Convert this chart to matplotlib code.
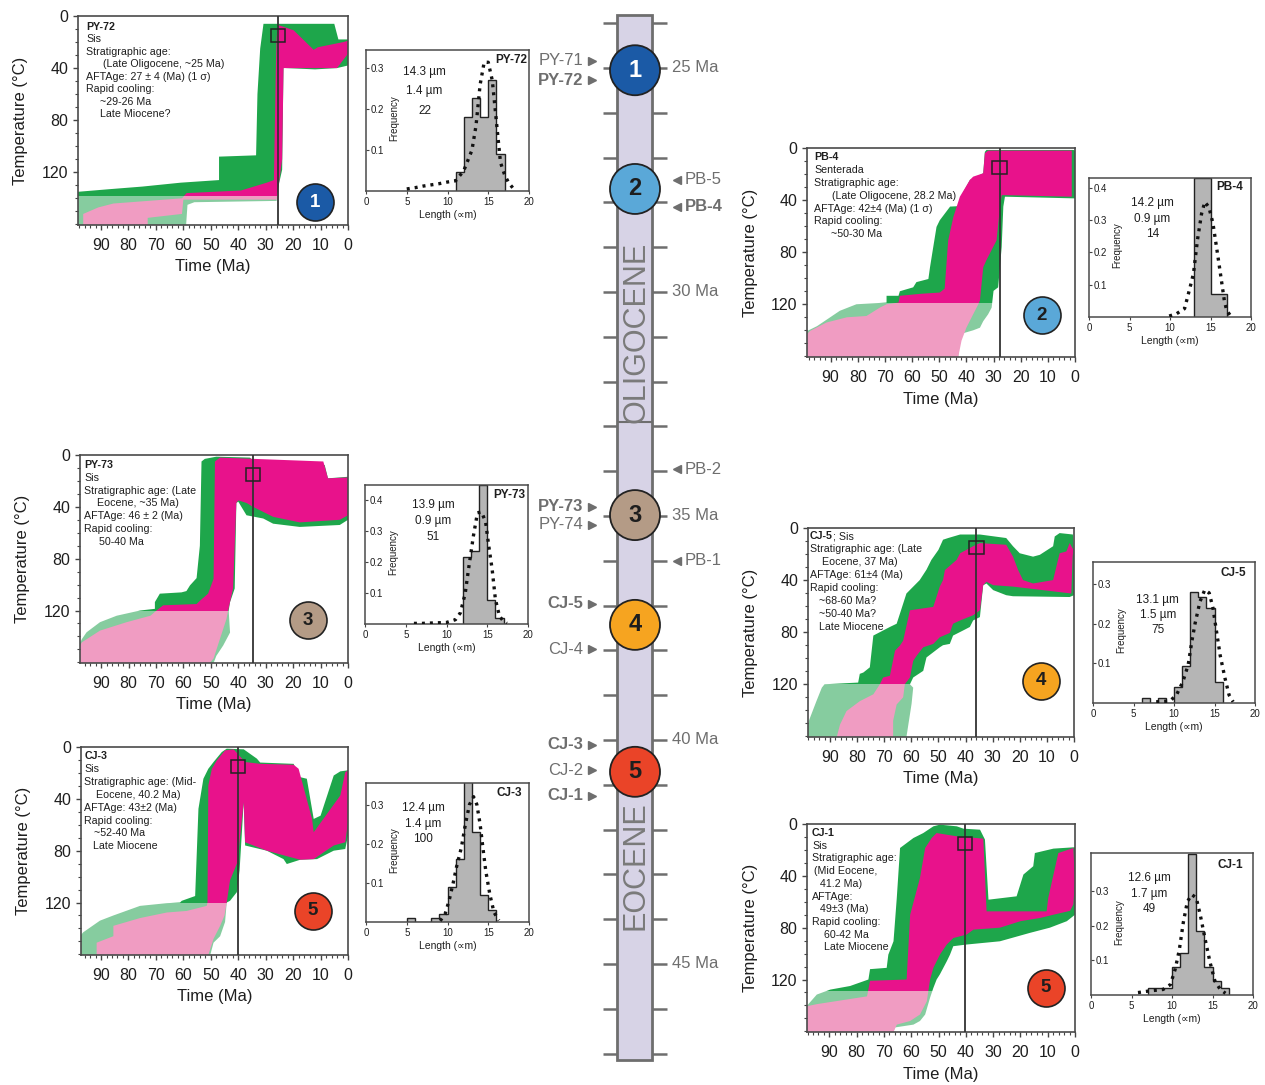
import numpy as np
import matplotlib
matplotlib.use("Agg")
import matplotlib.pyplot as plt
from matplotlib.patches import Polygon, Rectangle
from matplotlib.ticker import MultipleLocator

plt.rcParams['font.family'] = ['Liberation Sans', 'DejaVu Sans']

# ======================= DATA =======================
# --- central time column (Ma) ---
column_ticks_ma = list(range(24, 48))
column_age_labels_ma = [25, 30, 35, 40, 45]
epoch_names = ['OLIGOCENE', 'EOCENE']
epoch_label_ma = [30.9, 42.8]
epoch_boundary_ma = 32.9
column_top_ma, column_bottom_ma = 23.82, 47.14
group_numbers = ['1', '2', '3', '4', '5']
group_ages_ma = [25.05, 27.7, 34.98, 37.43, 40.71]
group_colors = ['#1b5aa6', '#5aa8d8', '#b49b86', '#f6a420', '#ea4428']
group_text_colors = ['white', '#1e1e1e', '#1e1e1e', '#1e1e1e', '#1e1e1e']

left_samples = ['PY-71', 'PY-72', 'PY-73', 'PY-74', 'CJ-5', 'CJ-4', 'CJ-3', 'CJ-2', 'CJ-1']
left_sample_ma = [24.84, 25.27, 34.79, 35.2, 36.96, 37.97, 40.11, 40.68, 41.25]
left_sample_bold = [False, True, True, False, True, False, True, False, True]
right_samples = ['PB-5', 'PB-4', 'PB-2', 'PB-1']
right_sample_ma = [27.5, 28.1, 33.96, 36.0]
right_sample_bold = [False, True, False, False]

# --- PY-72 thermal history envelopes (time Ma, temperature C) ---
py72_green_ma = [98.4, 87, 75, 61, 47, 47, 33.5, 33, 32, 30.8, 5, 3.5, 0, 0, 4, 12, 22.5, 23.5, 24, 26, 26, 56, 58.5, 59, 98.4]
py72_green_temp = [135, 133, 131, 128, 126, 108, 107, 60, 25, 6, 6, 18, 18, 38, 40, 41, 40, 38, 118, 137, 142, 143, 145, 160.5, 160.5]
py72_pink_ma = [96.5, 91, 85.5, 73, 60.5, 58.8, 39, 29.6, 27, 26.3, 26, 25.3, 19.8, 12.5, 11, 1.6, 0, 0, 4, 23.5, 24, 26, 60, 60.5, 73, 73, 96.5]
py72_pink_temp = [152, 147, 144, 142, 140, 136, 134, 128, 126, 40, 16, 7, 11, 26, 24, 20, 19, 29, 40, 40, 110, 141, 141, 152, 155, 160.5, 160.5]
# --- PB-4 ---
pb4_green_ma = [98.7, 95, 86.6, 80.5, 69.4, 69.4, 65, 64.5, 59.6, 58.4, 54, 53.4, 52.2, 51, 49.8, 46, 42.4, 42, 38.7, 33.8, 33.2, 32.6, 0.6, 0, 0, 25.8, 26.4, 27, 28.3, 30, 30.7, 32, 33.8, 35, 37.5, 42.4, 43, 98.7]
pb4_green_temp = [140.6, 136.8, 125, 120, 118.7, 113.5, 113.5, 110, 107, 103, 100.6, 91.6, 76, 60.6, 55.5, 45, 44.6, 37.4, 24.5, 19.4, 3, 1.5, 1.5, 2, 38.7, 37.4, 45, 76, 107, 109.7, 122.6, 127.7, 133, 138, 140, 143, 160.5, 160.5]
pb4_pink_ma = [98.7, 97.7, 91.5, 84, 76.8, 71.9, 69.4, 65, 64.5, 57, 49.8, 48, 46.7, 44.8, 42.4, 38.7, 37.5, 33.8, 33.2, 32, 1.2, 1.2, 25.8, 27, 27.6, 28.9, 32.6, 33.8, 35, 35.6, 37.5, 40, 41.8, 43, 98.7]
pb4_pink_temp = [143, 140.6, 134, 130, 129, 122.6, 120, 118.7, 113.5, 112, 111, 108, 71, 53, 37.4, 24.5, 22, 19.4, 4, 2, 2, 37.4, 36.2, 36.2, 45, 71, 86, 91.6, 117, 120, 127.7, 138, 148, 160.5, 160.5]
# --- PY-73 ---
py73_green_ma = [97.7, 97, 95.3, 90.4, 84.3, 75.8, 70.4, 70.4, 68.6, 60.7, 58.9, 57.6, 55.2, 54, 53.4, 52.2, 48, 35.8, 34.6, 8.5, 7.3, 0, 0, 3, 17.6, 27.3, 30.9, 37, 40, 40.7, 41.3, 43, 43.5, 43, 45.5, 48, 49, 97.7]
py73_green_temp = [145, 142, 136.8, 129, 124, 120, 118.7, 113.5, 107, 106, 105, 100.6, 95, 70, 5, 3, 1.3, 2, 3.9, 7.7, 18, 16.8, 50, 54, 55.5, 53, 49, 46.5, 36, 37, 103, 113.5, 120, 137, 147, 155, 160.5, 160.5]
py73_pink_ma = [97.7, 97, 90.4, 80.7, 72, 69.8, 67.4, 55.2, 54, 51, 49, 48.5, 46.7, 9, 7.3, 0, 0, 3, 17.6, 27.3, 34.6, 37, 40, 40.7, 41.9, 43.7, 44.3, 46.7, 49, 50.4, 97.7]
py73_pink_temp = [147, 144.5, 135.5, 129, 124, 120, 116, 115, 112.5, 107, 95.5, 5, 2, 5, 18, 17.3, 46.5, 50, 52, 47.7, 40, 37, 35, 37, 103, 120, 126.5, 142, 157, 160.5, 160.5]
# --- CJ-5 ---
cj5_green_ma = [98.1, 97.4, 95, 93, 92, 79.6, 79, 77.7, 75.3, 74, 67.9, 65.4, 64.2, 61.8, 56.9, 54.4, 52.6, 50, 48.3, 46.4, 42, 34.7, 25, 22.5, 20, 15.1, 12.6, 7.7, 7.1, 5.3, 0.4, 0, 0, 1.6, 22.5, 25, 29.8, 32.3, 33.5, 34.7, 37.2, 38.4, 40.9, 44.6, 45.8, 48.3, 49.5, 54.4, 55.6, 59.3, 60.5, 59.3, 59.9, 61.8, 98.1]
cj5_green_temp = [150, 146, 133, 122.6, 120, 118.7, 112, 111, 107, 82.6, 76, 73.5, 65.8, 50.3, 40, 32, 24.5, 16.8, 9, 7.7, 5, 5, 7.7, 14, 19.4, 22, 20.6, 14, 6.5, 3.9, 5, 22, 51.6, 53, 52.4, 51.6, 47.7, 42.6, 44, 68.4, 71, 76, 78.7, 82.6, 89, 90, 91.6, 99.4, 109.7, 114.8, 120, 122.6, 135, 160.5, 160.5]
cj5_pink_ma = [87.5, 86.3, 83.9, 79, 74, 71.6, 70.4, 67.9, 66, 64.2, 63, 60.5, 51.9, 49.5, 48.3, 47.6, 43.3, 42, 37.2, 34.7, 25, 22.5, 20.6, 18.8, 15.1, 7.7, 5.3, 2.8, 1.6, 0.2, 0.5, 1, 22.5, 29.8, 32.3, 33.5, 34.7, 37.2, 42, 44.6, 45.8, 49.5, 51.9, 55.6, 58, 59.3, 60.5, 62.4, 63, 65.4, 66.7, 66.7]
cj5_pink_temp = [160.5, 151, 140.6, 133, 127.7, 120, 114.8, 113.5, 94.2, 90.3, 86.5, 63.2, 60.6, 45, 40, 32.3, 24.5, 19.4, 14, 11.6, 12.9, 22, 32.3, 40, 42.6, 40, 19.4, 18, 11.6, 16.8, 22, 50.3, 45, 43.9, 41.3, 44, 63.2, 67, 71, 73.5, 80.6, 83.9, 89, 91.6, 98, 102, 114.8, 120, 130, 135.5, 148, 160.5]
# --- CJ-3 ---
cj3_green_ma = [97.3, 96.5, 90.4, 85.5, 75.8, 66, 61.2, 60.6, 55.7, 54.5, 52.7, 50.9, 49, 46, 44.2, 38, 33.2, 32, 19.8, 18, 15, 12.5, 10, 5.2, 2.8, 0, 0, 1, 5.2, 11.3, 17.4, 22.3, 23.5, 29.6, 37.5, 38, 39.5, 40.5, 43, 44.2, 44.8, 46.6, 49, 50.2, 97.3]
cj3_green_temp = [145, 143, 134, 130, 122.6, 120.5, 120, 118.7, 115, 47.7, 24.5, 16.8, 11.6, 3.9, 1.3, 1.8, 9, 12, 13, 23, 24.5, 55.5, 53, 22, 18.8, 18, 68.4, 78.7, 80, 86.5, 87, 90.3, 86.5, 80, 76, 42, 95, 112, 118.7, 120, 135, 146, 151, 160.5, 160.5]
cj3_pink_ma = [91.6, 91.6, 85.5, 85.5, 75.8, 66, 58.8, 51.5, 51.2, 50.9, 49.6, 47.8, 44.8, 41.7, 37.5, 32, 19.8, 18, 13.1, 12.5, 2.8, 1, 0, 0, 1, 5.2, 12.5, 17.4, 21, 29.6, 37.5, 38, 40.3, 43, 44.2, 45, 46.6, 49, 50.9]
cj3_pink_temp = [160.5, 151, 146, 138, 132, 127.7, 126.5, 122.6, 120, 29.7, 16.8, 10.3, 2.6, 1.8, 11.6, 13, 13.7, 16.8, 55.5, 65.8, 37.4, 19.4, 18, 58, 73.5, 76, 86.5, 87, 85, 80, 73.5, 42.6, 89, 103, 120, 130, 138, 148, 160.5]
# --- CJ-1 ---
cj1_green_ma = [98.2, 97.7, 94.6, 89.7, 82.4, 75.7, 75.1, 69, 68.4, 66.5, 65.3, 64.1, 59.2, 55.6, 51.9, 49.5, 43.3, 40.9, 34.8, 33, 31.7, 21.4, 18.9, 15.3, 14.7, 7.9, 0.6, 0, 0, 3, 9.2, 16.5, 27.5, 39.7, 44.6, 45.8, 47, 49.5, 50.7, 51.9, 53.1, 54.9, 56.8, 59.2, 66, 66.5, 98.2]
cj1_green_temp = [141, 139, 131.6, 127.8, 125, 120, 112, 111, 100.8, 90.5, 57, 18.5, 10.8, 7, 1.8, 0.5, 1.8, 3.6, 4.4, 12, 58.4, 55.8, 39, 32.6, 22.4, 19, 18, 18, 70, 75, 80, 84, 90.5, 93, 94.3, 100.8, 106, 116, 120, 126.5, 134, 147, 152, 154.8, 157, 160.5, 160.5]
cj1_pink_ma = [98.2, 94.6, 76.2, 75.1, 61.7, 60.4, 56.8, 54.9, 52.5, 50.7, 43.3, 33.6, 32.4, 10.4, 9.8, 6.1, 0.6, 0, 0.6, 1.8, 7.9, 12.8, 20, 27.5, 37.2, 39.7, 44.6, 47, 49.5, 51.9, 53.1, 54.3, 56.8, 60.4, 65.3, 66.5, 98.2]
cj1_pink_temp = [140.6, 139, 133, 121, 120, 70, 41.6, 18.5, 10.8, 7, 9.5, 11.3, 67.4, 67.4, 57, 22.4, 18.5, 44, 62, 67, 70, 72.5, 75, 80, 81.5, 85.3, 88, 93, 100.8, 111, 120, 136.8, 147, 152, 154.8, 160.5, 160.5]

# stratigraphic ages (vertical lines), group circle positions
strat_age_ma = {'PY-72': 25.5, 'PB-4': 27.8, 'PY-73': 34.6, 'CJ-5': 36.0, 'CJ-3': 40.1, 'CJ-1': 40.3}
circle_pos = {'PY-72': (11.9, 143), 'PB-4': (12.3, 128.5), 'PY-73': (14.6, 127.7),
              'CJ-5': (12.3, 117.4), 'CJ-3': (12.9, 126.5), 'CJ-1': (10.6, 126.5)}
pale_cut_temp = {'PY-72': 138, 'PB-4': 119, 'PY-73': 120, 'CJ-5': 120, 'CJ-3': 120, 'CJ-1': 129}

# --- track length histograms: first bin edge, counts, n ---
py72_bin0, py72_counts, py72_n = 11, [1, 4, 5, 4, 6, 2], 22
pb4_bin0, pb4_counts, pb4_n = 13, [6, 6, 1, 1], 14
py73_bin0, py73_counts, py73_n = 12, [11, 12, 23, 4, 1], 51
cj5_bin0, cj5_counts, cj5_n = 6, [1, 0, 1, 0, 3, 7, 21, 20, 18, 4], 75
cj3_bin0, cj3_counts, cj3_n = 5, [1, 0, 0, 1, 2, 9, 16, 38, 23, 7, 3], 100
cj1_bin0, cj1_counts, cj1_n = 7, [1, 1, 1, 4, 6, 20, 9, 4, 2, 1], 49

# predicted (model) length distributions, dotted curves
py72_model_len = [5, 6, 7, 8, 9, 10, 11, 12, 13, 13.5, 14, 14.5, 15, 15.5, 16, 16.5, 17, 17.5, 18]
py72_model_freq = [0.005, 0.008, 0.012, 0.015, 0.018, 0.022, 0.025, 0.05, 0.1, 0.16, 0.26, 0.315, 0.315, 0.27, 0.17, 0.07, 0.04, 0.02, 0.008]
pb4_model_len = [9.9, 10.8, 11.8, 12.5, 12.9, 13.4, 13.9, 14.3, 14.8, 15.3, 15.9, 16.4, 16.7, 17, 17.5]
pb4_model_freq = [0.003, 0.01, 0.026, 0.094, 0.135, 0.24, 0.32, 0.356, 0.34, 0.29, 0.19, 0.104, 0.052, 0.02, 0.003]
py73_model_len = [6, 7, 8, 9, 10, 11.1, 11.7, 12.3, 12.7, 13.3, 13.8, 14.3, 14.8, 15.2, 15.6, 16, 16.5, 17, 17.4]
py73_model_freq = [0.002, 0.002, 0.003, 0.004, 0.005, 0.014, 0.036, 0.1, 0.177, 0.285, 0.36, 0.363, 0.33, 0.25, 0.177, 0.08, 0.025, 0.009, 0.002]
cj5_model_len = [7.8, 9.5, 10.3, 11.1, 11.75, 12.2, 12.6, 13.2, 13.8, 14.35, 14.8, 15.25, 15.7, 16.3, 16.8, 17.3]
cj5_model_freq = [0.003, 0.005, 0.02, 0.054, 0.096, 0.155, 0.2, 0.255, 0.285, 0.277, 0.24, 0.18, 0.12, 0.062, 0.02, 0.003]
cj3_model_len = [9.1, 9.7, 10.2, 10.7, 11.1, 11.7, 12.2, 12.7, 13.2, 13.6, 14, 14.4, 14.7, 15.2, 15.7, 16.3]
cj3_model_freq = [0.003, 0.02, 0.055, 0.1, 0.14, 0.19, 0.25, 0.3, 0.32, 0.3, 0.25, 0.18, 0.13, 0.07, 0.025, 0.004]
cj1_model_len = [5.8, 7.3, 8.9, 9.8, 10.4, 10.9, 11.4, 11.9, 12.45, 13, 13.5, 14.1, 14.7, 15.3, 15.96, 16.6]
cj1_model_freq = [0.007, 0.012, 0.016, 0.03, 0.075, 0.13, 0.21, 0.27, 0.29, 0.28, 0.23, 0.16, 0.094, 0.04, 0.016, 0.005]

stats_text = {'PY-72': ['14.3 µm', '1.4 µm', '22'], 'PB-4': ['14.2 µm', '0.9 µm', '14'],
              'PY-73': ['13.9 µm', '0.9 µm', '51'], 'CJ-5': ['13.1 µm', '1.5 µm', '75'],
              'CJ-3': ['12.4 µm', '1.4 µm', '100'], 'CJ-1': ['12.6 µm', '1.7 µm', '49']}

# panel annotation lines: (row, indent px, text, bold)
py72_lines = [(0, 0, 'PY-72', True), (1, 0, 'Sis', False), (2, 0, 'Stratigraphic age:', False),
              (3, 17, '(Late Oligocene, ~25 Ma)', False), (4, 0, 'AFTAge: 27 ± 4 (Ma) (1 σ)', False),
              (5, 0, 'Rapid cooling:', False), (6, 14, '~29-26 Ma', False), (7, 14, 'Late Miocene?', False)]
pb4_lines = [(0, 0, 'PB-4', True), (1, 0, 'Senterada', False), (2, 0, 'Stratigraphic age:', False),
             (3, 17.7, '(Late Oligocene, 28.2 Ma)', False), (4, 0, 'AFTAge: 42±4 (Ma) (1 σ)', False),
             (5, 0, 'Rapid cooling:', False), (6, 16.7, '~50-30 Ma', False)]
py73_lines = [(0, 0, 'PY-73', True), (1, 0, 'Sis', False), (2, 0, 'Stratigraphic age: (Late', False),
              (3, 12.3, 'Eocene, ~35 Ma)', False), (4, 0, 'AFTAge: 46 ± 2 (Ma)', False),
              (5, 0, 'Rapid cooling:', False), (6, 15, '50-40 Ma', False)]
cj5_lines = [(0, 0, 'CJ-5', True), (0, 23, '; Sis', False), (1, 0, 'Stratigraphic age: (Late', False),
             (2, 12.3, 'Eocene, 37 Ma)', False), (3, 0, 'AFTAge: 61±4 (Ma)', False),
             (4, 0, 'Rapid cooling:', False), (5, 9, '~68-60 Ma?', False), (6, 9, '~50-40 Ma?', False),
             (7, 9, 'Late Miocene', False)]
cj3_lines = [(0, 0, 'CJ-3', True), (1, 0, 'Sis', False), (2, 0, 'Stratigraphic age: (Mid-', False),
             (3, 11.7, 'Eocene, 40.2 Ma)', False), (4, 0, 'AFTAge: 43±2 (Ma)', False),
             (5, 0, 'Rapid cooling:', False), (6, 10, '~52-40 Ma', False), (7, 8.3, 'Late Miocene', False)]
cj1_lines = [(0, 0, 'CJ-1', True), (1, 0, 'Sis', False), (2, 0, 'Stratigraphic age:', False),
             (3, 2.3, '(Mid Eocene,', False), (4, 8.3, '41.2 Ma)', False), (5, 0, 'AFTAge:', False),
             (6, 8.3, '49±3 (Ma)', False), (7, 0, 'Rapid cooling:', False), (8, 11.7, '60-42 Ma', False),
             (9, 11.7, 'Late Miocene', False)]

# ======================= STYLE / LAYOUT =======================
W, H = 1265, 1085
GREEN, PINK = '#1ea64b', '#e8128b'
PALE_GREEN, PALE_PINK = '#86cc9f', '#f09cc2'
GRAY = '#6e6e6e'
TXT = '#1e1e1e'
PANEL_FS = 7.7

fig = plt.figure(figsize=(W / 100, H / 100), dpi=100)


def add_ax(l, t, r, b):
    return fig.add_axes([l / W, 1 - b / H, (r - l) / W, (b - t) / H])


def tt_panel(box, xmax, g_ma, g_temp, p_ma, p_temp, key, gi, rows, x0, y0, dy):
    ax = add_ax(*box)
    ax.set_xlim(xmax, 0)
    ax.set_ylim(160.5, 0)
    cut = pale_cut_temp[key]
    for ma, tt, solid, pale in ((g_ma, g_temp, GREEN, PALE_GREEN), (p_ma, p_temp, PINK, PALE_PINK)):
        pts = np.column_stack([ma, tt])
        for col, (ylo, hh) in ((solid, (-10, cut + 10)), (pale, (cut, 200))):
            poly = Polygon(pts, closed=True, fc=col, ec='none', zorder=1)
            ax.add_patch(poly)
            poly.set_clip_path(Rectangle((-10, ylo), 200, hh, transform=ax.transData))
    sa = strat_age_ma[key]
    ax.axvline(sa, color='#333333', lw=1.3, zorder=4)
    ax.add_patch(Rectangle((sa - 2.7, 10), 5.4, 10, fill=False, ec='#222222', lw=1.1, zorder=5))
    cx, cy = circle_pos[key]
    ax.scatter([cx], [cy], s=710, c=group_colors[gi], edgecolors='#222222', linewidths=1.2, zorder=6)
    ax.text(cx, cy, group_numbers[gi], ha='center', va='center', fontsize=13.5, fontweight='bold',
            color=group_text_colors[gi], zorder=7)
    ax.set_xticks([90, 80, 70, 60, 50, 40, 30, 20, 10, 0])
    ax.set_yticks([0, 40, 80, 120])
    ax.xaxis.set_minor_locator(MultipleLocator(2))
    ax.yaxis.set_minor_locator(MultipleLocator(10))
    ax.tick_params(which='major', length=3.5, width=1, color='#444444', labelsize=11.5,
                   labelcolor=TXT)
    ax.tick_params(axis='x', which='major', pad=6)
    ax.tick_params(which='minor', length=2, width=0.8, color='#444444')
    for s in ax.spines.values():
        s.set_color('#4a4a4a')
        s.set_linewidth(1.2)
    ax.annotate('Temperature (°C)', xy=(0, 0.5), xycoords='axes fraction', xytext=(-57, 0),
                textcoords='offset pixels', rotation=90, ha='center', va='center', fontsize=12, color=TXT)
    ax.annotate('Time (Ma)', xy=(0.5, 0), xycoords='axes fraction', xytext=(0, -42),
                textcoords='offset pixels', ha='center', va='center', fontsize=12, color=TXT)
    for row, ind, s, bold in rows:
        ax.annotate(s, xy=(0, 1), xycoords='axes fraction', xytext=(x0 + ind, -(y0 + row * dy)),
                    textcoords='offset pixels', ha='left', va='center', fontsize=PANEL_FS,
                    fontweight='bold' if bold else 'normal', color=TXT, zorder=8)
    return ax


def hist_panel(box, ymax, bin0, counts, n, mlen, mfreq, key, sx, sy, sdy, ndx, ndy):
    ax = add_ax(*box)
    ax.set_xlim(0, 20)
    ax.set_ylim(0, ymax)
    edges = np.arange(bin0, bin0 + len(counts) + 1)
    freqs = np.array(counts, dtype=float) / n
    ax.stairs(freqs, edges, fill=True, color='#b5b5b5', zorder=1)
    ax.stairs(freqs, edges, color='#222222', lw=1.0, zorder=2)
    ax.plot(mlen, mfreq, color='#111111', ls=(0, (0.9, 1.5)), lw=2.4, zorder=3)
    ax.set_xticks([0, 5, 10, 15, 20])
    yt = [t for t in (0.1, 0.2, 0.3, 0.4) if t <= ymax - 0.015]
    ax.set_yticks(yt)
    ax.set_yticklabels(['%.1f' % t for t in yt])
    ax.tick_params(axis='x', length=2, pad=2.5, labelsize=7, labelcolor=TXT, color='#444444')
    ax.tick_params(axis='y', direction='in', length=2.5, pad=-3.5, labelsize=7, labelcolor=TXT,
                   color='#444444')
    for lb in ax.get_yticklabels():
        lb.set_horizontalalignment('left')
    for s in ax.spines.values():
        s.set_color('#4a4a4a')
        s.set_linewidth(1.1)
    ax.annotate('Frequency', xy=(0, 0.5), xycoords='axes fraction', xytext=(28, 2),
                textcoords='offset pixels', rotation=90, ha='center', va='center', fontsize=7, color=TXT)
    ax.annotate('Length (\u221dm)', xy=(0.5, 0), xycoords='axes fraction', xytext=(0, -24),
                textcoords='offset pixels', ha='center', va='center', fontsize=7.5, color=TXT)
    for i, s in enumerate(stats_text[key]):
        ax.annotate(s, xy=(sx, 1), xycoords='axes fraction', xytext=(0, -(sy + i * sdy)),
                    textcoords='offset pixels', ha='center', va='center', fontsize=8.5, color=TXT, zorder=5)
    ax.annotate(key, xy=(1, 1), xycoords='axes fraction', xytext=(-ndx, -ndy), textcoords='offset pixels',
                ha='right', va='center', fontsize=8.5, fontweight='bold', color=TXT, zorder=5)
    return ax


# ======================= CENTRAL COLUMN =======================
axc = fig.add_axes([525 / W, 0, 240 / W, 1])
axc.set_xlim(525, 765)
axc.set_ylim(25 + (H - 68) / 44.8, 25 - 68 / 44.8)
axc.set_axis_off()
axc.bar(634.5, column_bottom_ma - column_top_ma, bottom=column_top_ma, width=35,
        color='#d7d3e6', edgecolor=GRAY, linewidth=2, zorder=1)
axc.hlines(column_ticks_ma, 603, 617, color=GRAY, lw=1.8, zorder=1)
axc.hlines(column_ticks_ma, 652, 667, color=GRAY, lw=1.8, zorder=1)
axc.hlines([epoch_boundary_ma], 617, 652, color=GRAY, lw=1.5, zorder=2)
for name, ma in zip(epoch_names, epoch_label_ma):
    axc.text(636, ma, name, rotation=90, ha='center', va='center', fontsize=22, color='#7a7a7a', zorder=2)
for a in column_age_labels_ma:
    axc.text(672, a, '%d Ma' % a, ha='left', va='center', fontsize=12, color=GRAY)
axc.scatter([635] * len(group_ages_ma), group_ages_ma, s=1296, c=group_colors,
            edgecolors='#222222', linewidths=1.3, zorder=5)
for num, ma, tc in zip(group_numbers, group_ages_ma, group_text_colors):
    axc.text(635, ma, num, ha='center', va='center', fontsize=17, fontweight='bold', color=tc, zorder=6)
for s, ma, b in zip(left_samples, left_sample_ma, left_sample_bold):
    axc.text(583, ma, s, ha='right', va='center', fontsize=12, color=GRAY,
             fontweight='bold' if b else 'normal')
axc.plot([592] * len(left_sample_ma), left_sample_ma, ls='none', marker='>', ms=6, color=GRAY)
for s, ma, b in zip(right_samples, right_sample_ma, right_sample_bold):
    axc.text(685, ma, s, ha='left', va='center', fontsize=12, color=GRAY,
             fontweight='bold' if b else 'normal')
axc.plot([677.5] * len(right_sample_ma), right_sample_ma, ls='none', marker='<', ms=6, color=GRAY)

# ======================= PANELS =======================
tt_panel((78, 16, 348, 225), 98.4, py72_green_ma, py72_green_temp, py72_pink_ma, py72_pink_temp,
         'PY-72', 0, py72_lines, 8, 10.7, 12.5)
hist_panel((366, 50, 529, 191), 0.345, py72_bin0, py72_counts, py72_n, py72_model_len, py72_model_freq,
           'PY-72', 0.36, 21.7, 19.5, 1.5, 10)

tt_panel((807, 148, 1075, 357), 98.7, pb4_green_ma, pb4_green_temp, pb4_pink_ma, pb4_pink_temp,
         'PB-4', 1, pb4_lines, 7.3, 9, 12.9)
hist_panel((1089, 178, 1251, 317), 0.43, pb4_bin0, pb4_counts, pb4_n, pb4_model_len, pb4_model_freq,
           'PB-4', 0.39, 25.3, 15.5, 8, 9.3)

tt_panel((80, 455, 348, 663), 97.7, py73_green_ma, py73_green_temp, py73_pink_ma, py73_pink_temp,
         'PY-73', 2, py73_lines, 4.3, 10, 12.8)
hist_panel((365, 485, 528, 624), 0.45, py73_bin0, py73_counts, py73_n, py73_model_len, py73_model_freq,
           'PY-73', 0.42, 20, 16, 3, 10)

tt_panel((808, 528, 1074, 737), 98.1, cj5_green_ma, cj5_green_temp, cj5_pink_ma, cj5_pink_temp,
         'CJ-5', 3, cj5_lines, 1.7, 8.3, 12.9)
hist_panel((1093, 562, 1255, 703), 0.355, cj5_bin0, cj5_counts, cj5_n, cj5_model_len, cj5_model_freq,
           'CJ-5', 0.40, 38, 15, 9, 11)

tt_panel((81, 747, 348, 955), 97.3, cj3_green_ma, cj3_green_temp, cj3_pink_ma, cj3_pink_temp,
         'CJ-3', 4, cj3_lines, 3.3, 9, 12.9)
hist_panel((366, 783, 529, 922), 0.355, cj3_bin0, cj3_counts, cj3_n, cj3_model_len, cj3_model_freq,
           'CJ-3', 0.35, 25.3, 15.3, 6.6, 10)

tt_panel((807, 824, 1075, 1032), 98.2, cj1_green_ma, cj1_green_temp, cj1_pink_ma, cj1_pink_temp,
         'CJ-1', 4, cj1_lines, 5, 9, 12.7)
hist_panel((1091, 853, 1253, 995), 0.41, cj1_bin0, cj1_counts, cj1_n, cj1_model_len, cj1_model_freq,
           'CJ-1', 0.36, 25.3, 15.5, 9.4, 12.4)

fig.savefig('out.png', dpi=100)
